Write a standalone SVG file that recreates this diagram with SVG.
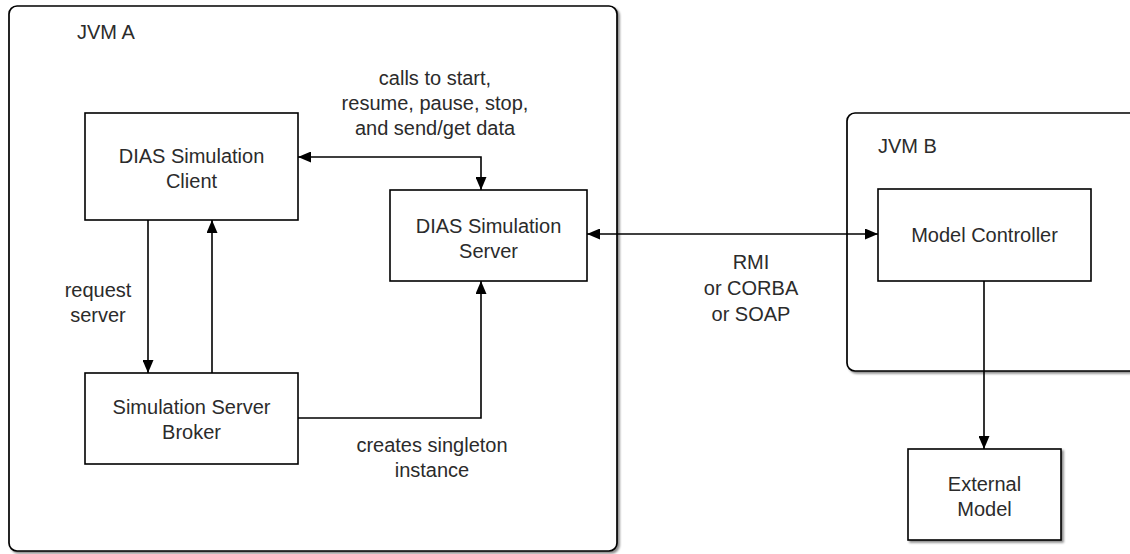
<svg xmlns="http://www.w3.org/2000/svg" width="1130" height="554" viewBox="0 0 1130 554">
  <style>
    .container { fill: #ffffff; stroke: #000000; stroke-width: 1.7; filter: url(#shadow); }
    .box { fill: #ffffff; stroke: #000000; stroke-width: 1.6; }
    .boxshadow { filter: url(#shadow); }
    .label { font-family: "Liberation Sans", Arial, Helvetica, sans-serif; font-size: 20px; fill: #2b2b2b; text-anchor: middle; }
    .title { font-family: "Liberation Sans", Arial, Helvetica, sans-serif; font-size: 20px; fill: #2b2b2b; }
    .edge { fill: none; stroke: #000000; stroke-width: 1.6; }
    .arrow { marker-end: url(#head); }
    .both { marker-start: url(#head); marker-end: url(#head); }
  </style>
  <defs>
    <filter id="shadow" x="-5%" y="-5%" width="110%" height="110%">
      <feDropShadow dx="2" dy="2" stdDeviation="1" flood-color="#000000" flood-opacity="0.45"/>
    </filter>
    <marker id="head" viewBox="0 0 13 11" refX="13" refY="5.5" markerWidth="13" markerHeight="11" markerUnits="userSpaceOnUse" orient="auto-start-reverse">
      <path d="M0,0 L13,5.5 L0,11 z" fill="#000000"/>
    </marker>
  </defs>

  <rect x="0" y="0" width="1130" height="554" fill="#ffffff"/>

  <!-- Process containers -->
  <g id="jvm-a">
    <rect class="container" x="9" y="6" width="608" height="545" rx="8" ry="8"/>
    <text class="title" x="77" y="39">JVM A</text>
  </g>
  <g id="jvm-b">
    <rect class="container" x="847" y="113" width="300" height="258" rx="8" ry="8"/>
    <text class="title" x="878" y="153">JVM B</text>
  </g>

  <!-- Connectors -->
  <g id="connectors">
    <path class="edge both" d="M481,190 L481,157 L298,157"/>
    <path class="edge both" d="M587,234 L878,234"/>
    <path class="edge arrow" d="M148,220 L148,373"/>
    <path class="edge arrow" d="M212,373 L212,220"/>
    <path class="edge arrow" d="M298,418 L481,418 L481,281"/>
    <path class="edge arrow" d="M984,281 L984,449"/>

    <text class="label" x="435" y="85">calls to start,</text>
    <text class="label" x="435" y="110">resume, pause, stop,</text>
    <text class="label" x="435" y="135">and send/get data</text>

    <text class="label" x="751" y="269">RMI</text>
    <text class="label" x="751" y="295">or CORBA</text>
    <text class="label" x="751" y="321">or SOAP</text>

    <text class="label" x="98" y="297">request</text>
    <text class="label" x="98" y="322">server</text>

    <text class="label" x="432" y="452">creates singleton</text>
    <text class="label" x="432" y="477">instance</text>
  </g>

  <!-- Components -->
  <g id="sim-client">
    <rect class="box" x="85" y="113" width="213" height="107"/>
    <text class="label" x="191.5" y="163">DIAS Simulation</text>
    <text class="label" x="191.5" y="188">Client</text>
  </g>
  <g id="sim-server">
    <rect class="box" x="390" y="190" width="197" height="91"/>
    <text class="label" x="488.5" y="233">DIAS Simulation</text>
    <text class="label" x="488.5" y="258">Server</text>
  </g>
  <g id="server-broker">
    <rect class="box" x="85" y="373" width="213" height="91"/>
    <text class="label" x="191.5" y="414">Simulation Server</text>
    <text class="label" x="191.5" y="439">Broker</text>
  </g>
  <g id="model-controller">
    <rect class="box" x="878" y="189" width="213" height="92"/>
    <text class="label" x="984.5" y="242">Model Controller</text>
  </g>
  <g id="external-model">
    <rect class="box boxshadow" x="908" y="449" width="153" height="91"/>
    <text class="label" x="984.5" y="491">External</text>
    <text class="label" x="984.5" y="516">Model</text>
  </g>
</svg>
